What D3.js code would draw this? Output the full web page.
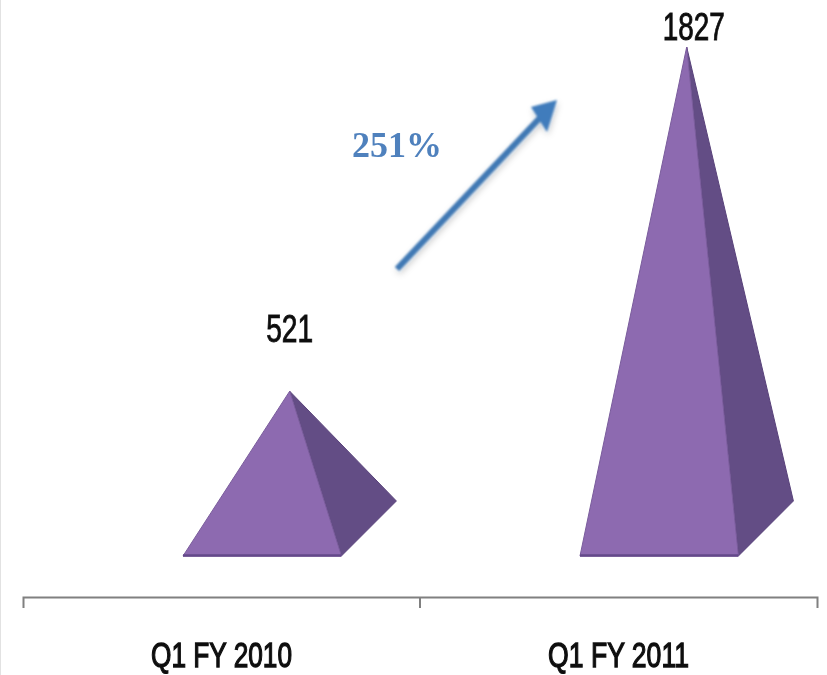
<!DOCTYPE html>
<html>
<head>
<meta charset="utf-8">
<script src="https://cdn.jsdelivr.net/npm/d3@7"></script>
<style>
  html, body { margin: 0; padding: 0; background: #fff; overflow: hidden; }
  svg { display: block; }
  .axis text { font-family: "Liberation Sans", sans-serif; font-size: 35px; fill: #111; stroke: #111; stroke-width: 1.3px; }
  .value { font-family: "Liberation Sans", sans-serif; font-size: 38px; fill: #111; stroke: #111; stroke-width: 0.9px; text-anchor: middle; }
  .growth { font-family: "Liberation Serif", serif; font-size: 36px; font-weight: bold; fill: #4f81bd; }
</style>
</head>
<body>
<div id="chart"></div>
<script>
const categories = ["Q1 FY 2010", "Q1 FY 2011"];
const values = [521, 1827];
const growthLabel = "251%";

const width = 827;
const height = 675;
const depth = 55;       // how far the 3d base runs back and to the right
const baseY = 556;

const svg = d3.select("#chart").append("svg")
    .attr("width", width)
    .attr("height", height);

const defs = svg.append("defs");
const shadow = defs.append("filter").attr("id", "shadow")
    .attr("x", "-20%").attr("y", "-20%").attr("width", "140%").attr("height", "140%");
shadow.append("feGaussianBlur").attr("in", "SourceGraphic").attr("stdDeviation", 0.9).attr("result", "shape");
shadow.append("feDropShadow")
    .attr("in", "shape")
    .attr("dx", 1).attr("dy", 3).attr("stdDeviation", 3)
    .attr("flood-color", "#000").attr("flood-opacity", 0.22);
const soft = defs.append("filter").attr("id", "soft");
soft.append("feGaussianBlur").attr("stdDeviation", 0.6);

// left edge of the scanned picture
svg.append("line")
    .attr("x1", 0.5).attr("x2", 0.5).attr("y1", 0).attr("y2", height)
    .attr("stroke", "#e2e2e2");

const x = d3.scaleBand().domain(categories).range([23, 817]);
// zero sits at the centre of the 3d base, half the depth above the front edge
const y = d3.scaleLinear().domain([0, d3.max(values)]).range([baseY - depth / 2, 47]);

const frontStart = 0.403 * x.bandwidth();
const frontWidth = 0.399 * x.bandwidth();

const line = d3.line();
const marks = svg.append("g").attr("filter", "url(#soft)");

const pyramids = marks.selectAll("g")
    .data(values)
    .enter()
    .append("g");

function corners(d, i) {
    let left = x(categories[i]) + frontStart;
    let right = left + frontWidth;
    let apex = [(left + right + depth) / 2, y(d)];
    return { left, right, apex };
}

// side face
pyramids.append("path")
    .attr("d", function (d, i) {
        let c = corners(d, i);
        return line([c.apex, [c.right, baseY], [c.right + depth, baseY - depth]]) + "Z";
    })
    .attr("fill", "#644d85")
    .attr("stroke", "#58427a")
    .attr("stroke-width", 1);

// front face
pyramids.append("path")
    .attr("d", function (d, i) {
        let c = corners(d, i);
        return line([c.apex, [c.left, baseY], [c.right, baseY]]) + "Z";
    })
    .attr("fill", "#8d6bb0")
    .attr("stroke", "#7a5c9c")
    .attr("stroke-width", 1);

// darker strip along the bottom edge
pyramids.append("path")
    .attr("d", function (d, i) {
        let c = corners(d, i);
        return line([[c.left, baseY - 0.5], [c.right, baseY - 0.5]]);
    })
    .attr("stroke", "#64498a")
    .attr("stroke-width", 2.5);

// value labels, squeezed to the narrow face of the original
const labelDx = [0, 7];
const labelDy = [-49, -7];
const labelWidth = [47, 62];
svg.selectAll(".value")
    .data(values)
    .enter()
    .append("text")
    .attr("class", "value")
    .attr("x", (d, i) => corners(d, i).apex[0] + labelDx[i])
    .attr("y", (d, i) => y(d) + labelDy[i])
    .attr("textLength", (d, i) => labelWidth[i])
    .attr("lengthAdjust", "spacingAndGlyphs")
    .attr("filter", "url(#soft)")
    .text(d => d);

// axis along the bottom
const axis = svg.append("g")
    .attr("class", "axis")
    .attr("transform", "translate(0,597)")
    .call(d3.axisBottom(x).tickSizeInner(0).tickSizeOuter(11).tickPadding(45));
axis.select(".domain").attr("stroke", "#808080").attr("stroke-width", 2);
axis.selectAll("text")
    .attr("textLength", 141)
    .attr("lengthAdjust", "spacingAndGlyphs")
    .attr("filter", "url(#soft)");
axis.append("line")
    .attr("x1", x(categories[1])).attr("x2", x(categories[1]))
    .attr("y1", 0).attr("y2", 11)
    .attr("stroke", "#808080").attr("stroke-width", 2);

// growth arrow and its label
const arrow = svg.append("g").attr("filter", "url(#shadow)");
arrow.append("path")
    .attr("d", line([[397, 269], [553, 104]]))
    .attr("fill", "none")
    .attr("stroke", "#3f78b4")
    .attr("stroke-width", 6);
arrow.append("path")
    .attr("d", line([[557, 100], [531, 107], [547, 132]]) + "Z")
    .attr("fill", "#3f7cbc");

svg.append("text")
    .attr("class", "growth")
    .attr("x", 352)
    .attr("y", 157)
    .attr("filter", "url(#soft)")
    .text(growthLabel);
</script>
</body>
</html>
